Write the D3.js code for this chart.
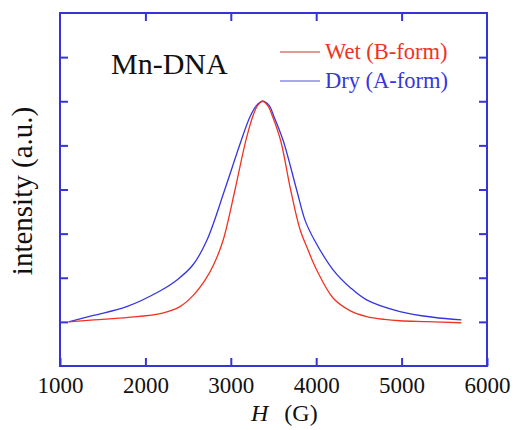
<!DOCTYPE html>
<html>
<head>
<meta charset="utf-8">
<script src="https://cdn.jsdelivr.net/npm/d3@7.9.0/dist/d3.min.js"></script>
<style>
  body { margin: 0; background: #fff; }
</style>
</head>
<body>
<svg width="515" height="430"></svg>
<script>
// field H (G) and intensity for each sample
const wetH = [1100, 1400, 1800, 2200, 2400, 2560, 2700, 2800, 2910, 3050, 3175, 3256, 3313, 3373, 3433, 3490, 3585, 3700, 3810, 3900, 4006, 4200, 4400, 4591, 4800, 4981, 5300, 5700];
const wetI = [0, 0.009, 0.02, 0.04, 0.068, 0.12, 0.19, 0.26, 0.37, 0.60, 0.82, 0.93, 0.98, 1.0, 0.98, 0.93, 0.82, 0.60, 0.42, 0.33, 0.235, 0.107, 0.05, 0.024, 0.011, 0.005, 0.001, -0.004];

const dryH = [1100, 1390, 1780, 2170, 2370, 2560, 2720, 2930, 3120, 3225, 3300, 3373, 3450, 3506, 3615, 3770, 3870, 3980, 4200, 4400, 4590, 4980, 5370, 5700];
const dryI = [0, 0.029, 0.069, 0.14, 0.19, 0.26, 0.37, 0.60, 0.82, 0.93, 0.98, 1.0, 0.98, 0.93, 0.82, 0.60, 0.46, 0.37, 0.235, 0.155, 0.10, 0.047, 0.021, 0.009];

const xTicks = [1000, 2000, 3000, 4000, 5000, 6000];
const yTicks = [0, 0.2, 0.4, 0.6, 0.8, 1.0, 1.2];

const frameColor = '#3434d8';
const wetColor = '#ee3322';
const dryColor = '#3636e0';
const serif = '"Liberation Serif", "Times New Roman", Tinos, "DejaVu Serif", serif';

const m = { left: 60, right: 487, top: 13, bottom: 366 };

const svg = d3.select('svg');

const x = d3.scaleLinear().domain([1000, 6000]).range([m.left, m.right]);
const y = d3.scaleLinear().domain([-0.2, 1.4]).range([m.bottom, m.top]);

// axes with inward ticks
const xb = svg.append('g').attr('transform', `translate(0,${m.bottom})`)
  .call(d3.axisBottom(x).tickValues(xTicks).tickSizeInner(-8).tickSizeOuter(0).tickPadding(11).tickFormat(d3.format('d')));
const xt = svg.append('g').attr('transform', `translate(0,${m.top})`)
  .call(d3.axisTop(x).tickValues(xTicks.slice(1, -1)).tickSizeInner(-8).tickSizeOuter(0).tickFormat(''));
const yl = svg.append('g').attr('transform', `translate(${m.left},0)`)
  .call(d3.axisLeft(y).tickValues(yTicks).tickSizeInner(-8).tickSizeOuter(0).tickFormat(''));
const yr = svg.append('g').attr('transform', `translate(${m.right},0)`)
  .call(d3.axisRight(y).tickValues(yTicks).tickSizeInner(-8).tickSizeOuter(0).tickFormat(''));

[xb, xt, yl, yr].forEach(g => {
  g.select('.domain').remove();
  g.attr('font-family', serif);
  g.selectAll('line').attr('stroke', frameColor).attr('stroke-width', 2);
});
xb.selectAll('text')
  .attr('font-family', serif)
  .attr('font-size', 23)
  .attr('fill', '#111');

// frame
svg.append('rect')
  .attr('x', m.left).attr('y', m.top)
  .attr('width', m.right - m.left).attr('height', m.bottom - m.top)
  .attr('fill', 'none').attr('stroke', frameColor).attr('stroke-width', 2);

// curves
const line = d3.line().curve(d3.curveCatmullRom.alpha(0.5));

svg.append('path')
  .attr('d', line(dryH.map((h, i) => [x(h), y(dryI[i])])))
  .attr('fill', 'none').attr('stroke', dryColor).attr('stroke-width', 1.3);

svg.append('path')
  .attr('d', line(wetH.map((h, i) => [x(h), y(wetI[i])])))
  .attr('fill', 'none').attr('stroke', wetColor).attr('stroke-width', 1.3);

// title
svg.append('text')
  .attr('x', 111).attr('y', 74)
  .attr('font-family', serif)
  .attr('font-size', 30).attr('fill', '#111')
  .text('Mn-DNA');

// legend
const legend = [
  { label: 'Wet (B-form)', color: wetColor, line: '#c0392b', y: 52 },
  { label: 'Dry (A-form)', color: dryColor, line: '#5050d8', y: 81 }
];
legend.forEach(d => {
  svg.append('line')
    .attr('x1', 280).attr('x2', 320)
    .attr('y1', d.y).attr('y2', d.y)
    .attr('stroke', d.line).attr('stroke-width', 1);
  svg.append('text')
    .attr('x', 325).attr('y', d.y + 7)
    .attr('font-family', serif)
    .attr('font-size', 22.5).attr('fill', d.color)
    .text(d.label);
});

// axis titles
const xTitle = svg.append('text')
  .attr('x', 251).attr('y', 421)
  .attr('font-family', serif)
  .attr('font-size', 24).attr('fill', '#111');
xTitle.append('tspan').attr('font-style', 'italic').text('H');
xTitle.append('tspan').attr('dx', 16).text('(G)');

svg.append('text')
  .attr('transform', 'translate(32,191) rotate(-90)')
  .attr('text-anchor', 'middle')
  .attr('font-family', serif)
  .attr('font-size', 29).attr('fill', '#111')
  .text('intensity (a.u.)');
</script>
</body>
</html>
